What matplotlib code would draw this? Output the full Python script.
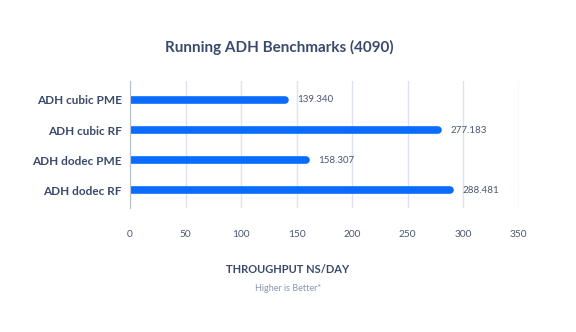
import numpy as np
import matplotlib.pyplot as plt

# benchmark data
labels = ["ADH cubic PME", "ADH cubic RF", "ADH dodec PME", "ADH dodec RF"]
values = [139.340, 277.183, 158.307, 288.481]
xticks = [0, 50, 100, 150, 200, 250, 300, 350]

navy = "#3b4a6b"
blue = "#0a6cff"

plt.rcParams['font.family'] = ['Lato', 'DejaVu Sans']

fig = plt.figure(figsize=(5.76, 3.32), dpi=100)
ax = fig.add_axes([0.2257, 0.373, 0.675, 0.383])

y = np.arange(len(labels))
ax.hlines(y, 0, values, color=blue, linewidth=5.5, capstyle='round')
for yi, v in zip(y, values):
    ax.annotate("%.3f" % v, (v, yi), xytext=(9, 0), textcoords='offset points',
                va='center', ha='left', fontsize=7, color="#4a5670")

ax.set_xlim(0, 350)
ax.set_ylim(3.6, -0.63)
ax.set_xticks(xticks)
ax.set_xticklabels([str(t) for t in xticks], fontsize=7.3, color="#4a5670")
ax.set_yticks(y)
ax.set_yticklabels(labels, fontsize=8.5, color=navy, fontweight='bold')
ax.tick_params(axis='both', length=0)
ax.tick_params(axis='x', pad=16)
ax.tick_params(axis='y', pad=6)

ax.grid(axis='x', color="#dde3ee", linewidth=1)
ax.set_axisbelow(True)
for s in ['top', 'right', 'bottom']:
    ax.spines[s].set_visible(False)
ax.spines['left'].set_color("#b8c0cf")

fig.text(0.485, 0.858, "Running ADH Benchmarks (4090)", ha='center', va='center',
         fontsize=11, color=navy, fontweight='bold')
fig.text(0.5, 0.187, "THROUGHPUT NS/DAY", ha='center', va='center',
         fontsize=8, color=navy, fontweight='bold')
fig.text(0.5, 0.132, "Higher is Better*", ha='center', va='center',
         fontsize=6.5, color="#8a95b0")

fig.savefig("out.png", dpi=100)
